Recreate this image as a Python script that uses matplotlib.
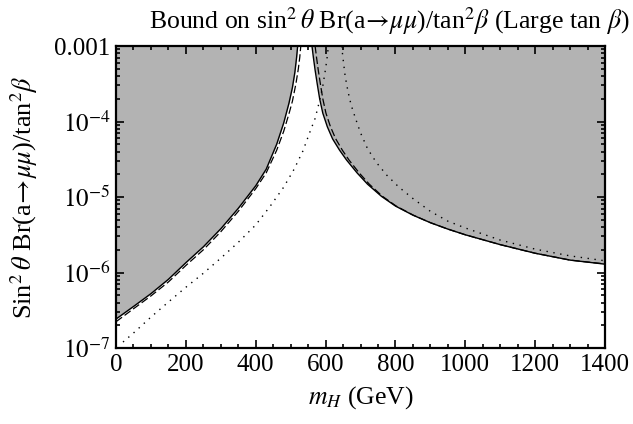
import numpy as np
import matplotlib
matplotlib.use("Agg")
import matplotlib.pyplot as plt
from matplotlib.ticker import FixedLocator, FixedFormatter, MultipleLocator, LogLocator, NullFormatter

plt.rcParams['font.family'] = ['Liberation Serif', 'DejaVu Serif']
plt.rcParams['mathtext.fontset'] = 'stix'

# solid curve (bound), left and right of the resonance
m_solid_left = [0, 50, 100, 150, 200, 250, 300, 350, 400, 430, 460, 480, 495, 505, 512, 517, 520]
br_solid_left = [2.42e-7, 3.55e-7, 5.25e-7, 8.13e-7, 1.35e-6, 2.19e-6, 3.80e-6, 7.08e-6, 1.41e-5,
                 2.34e-5, 5.01e-5, 9.55e-5, 1.74e-4, 2.82e-4, 4.47e-4, 7.08e-4, 1.0e-3]
m_solid_right = [561, 565, 570, 576, 583, 592, 605, 620, 640, 660, 690, 720, 760, 800, 850, 900,
                 950, 1000, 1100, 1200, 1300, 1400]
br_solid_right = [1.0e-3, 7.08e-4, 4.79e-4, 3.16e-4, 2.0e-4, 1.29e-4, 8.51e-5, 5.89e-5, 4.17e-5,
                  3.09e-5, 2.09e-5, 1.48e-5, 1.02e-5, 7.59e-6, 5.75e-6, 4.57e-6, 3.76e-6, 3.16e-6,
                  2.34e-6, 1.80e-6, 1.46e-6, 1.29e-6]

# dashed curve
m_dash_left = [0, 50, 100, 150, 200, 250, 300, 350, 400, 430, 460, 480, 495, 505, 515, 522, 526, 529]
br_dash_left = [2.23e-7, 3.31e-7, 4.90e-7, 7.50e-7, 1.24e-6, 2.00e-6, 3.47e-6, 6.46e-6, 1.29e-5,
                2.09e-5, 4.17e-5, 7.41e-5, 1.26e-4, 1.86e-4, 3.16e-4, 5.01e-4, 7.08e-4, 1.0e-3]
m_dash_right = [570, 574, 579, 585, 592, 601, 614, 629, 648, 667, 696, 725, 763, 802, 851, 900,
                950, 1000, 1100, 1200, 1300, 1400]
br_dash_right = [1.0e-3, 7.08e-4, 4.79e-4, 3.16e-4, 2.0e-4, 1.29e-4, 8.51e-5, 5.89e-5, 4.17e-5,
                 3.09e-5, 2.09e-5, 1.48e-5, 1.02e-5, 7.59e-6, 5.75e-6, 4.57e-6, 3.76e-6, 3.16e-6,
                 2.34e-6, 1.80e-6, 1.46e-6, 1.30e-6]

# dotted curve
m_dot_left = [20, 50, 100, 150, 200, 250, 300, 350, 400, 440, 480, 510, 535, 555, 570, 582, 592,
              600, 605, 608]
br_dot_left = [1.20e-7, 1.58e-7, 2.57e-7, 4.07e-7, 6.38e-7, 9.77e-7, 1.55e-6, 2.51e-6, 4.27e-6,
               7.41e-6, 1.35e-5, 2.34e-5, 4.07e-5, 7.24e-5, 1.10e-4, 1.82e-4, 2.95e-4, 5.01e-4,
               7.41e-4, 1.0e-3]
m_dot_right = [646, 650, 656, 664, 673, 685, 700, 720, 745, 775, 810, 850, 900, 950, 1000, 1100,
               1200, 1300, 1400]
br_dot_right = [1.0e-3, 6.76e-4, 3.98e-4, 2.51e-4, 1.66e-4, 1.12e-4, 7.08e-5, 4.37e-5, 2.88e-5,
                1.95e-5, 1.35e-5, 9.55e-6, 6.46e-6, 4.79e-6, 3.89e-6, 2.69e-6, 2.04e-6, 1.66e-6,
                1.43e-6]

y_ticks = [1e-7, 1e-6, 1e-5, 1e-4, 1e-3]
y_ticklabels = ["$10^{-7}$", "$10^{-6}$", "$10^{-5}$", "$10^{-4}$", "0.001"]

fig = plt.figure(figsize=(6.33, 4.24), dpi=100)
ax = fig.add_axes([0.1833, 0.1792, 0.7725, 0.7123])

ymax = 1e-3
ax.fill_between(m_solid_left, br_solid_left, ymax, color='#b3b3b3', lw=0)
ax.fill_between(m_solid_right, br_solid_right, ymax, color='#b3b3b3', lw=0)

ax.plot(m_solid_left, br_solid_left, color='black', lw=1.0)
ax.plot(m_solid_right, br_solid_right, color='black', lw=1.0)
ax.plot(m_dash_left, br_dash_left, color='black', lw=0.9, ls=(0, (6, 2.5)))
ax.plot(m_dash_right, br_dash_right, color='black', lw=0.9, ls=(0, (6, 2.5)))
ax.plot(m_dot_left, br_dot_left, color='black', lw=1.0, ls=(0, (1, 4)))
ax.plot(m_dot_right, br_dot_right, color='black', lw=1.0, ls=(0, (1, 4)))

ax.set_yscale('log')
ax.set_xlim(0, 1400)
ax.set_ylim(1e-7, 1e-3)

ax.xaxis.set_major_locator(MultipleLocator(200))
ax.xaxis.set_minor_locator(MultipleLocator(50))
ax.yaxis.set_major_locator(FixedLocator(y_ticks))
ax.yaxis.set_major_formatter(FixedFormatter(y_ticklabels))
ax.yaxis.set_minor_locator(LogLocator(base=10, subs=np.arange(2, 10)))
ax.yaxis.set_minor_formatter(NullFormatter())

ax.tick_params(which='both', direction='in', top=True, right=True, labelsize=18, width=1.2)
ax.tick_params(which='major', length=6, pad=4)
ax.tick_params(which='minor', length=3)
for s in ax.spines.values():
    s.set_linewidth(1.6)

arrow = r"$\!\rightarrow\!\mu\mu$"
ax.set_title("Bound on sin$^2\\,\\theta$ Br(a" + arrow + ")/tan$^2\\beta$ (Large tan $\\beta$)",
             fontsize=18.5, pad=12, x=0.558)
ax.set_xlabel("$m_H$ (GeV)", fontsize=18.5, labelpad=6)
ax.set_ylabel("Sin$^2\\,\\theta$ Br(a" + arrow + ")/tan$^2\\beta$", fontsize=19, labelpad=10)

fig.savefig("out.png", dpi=100)
